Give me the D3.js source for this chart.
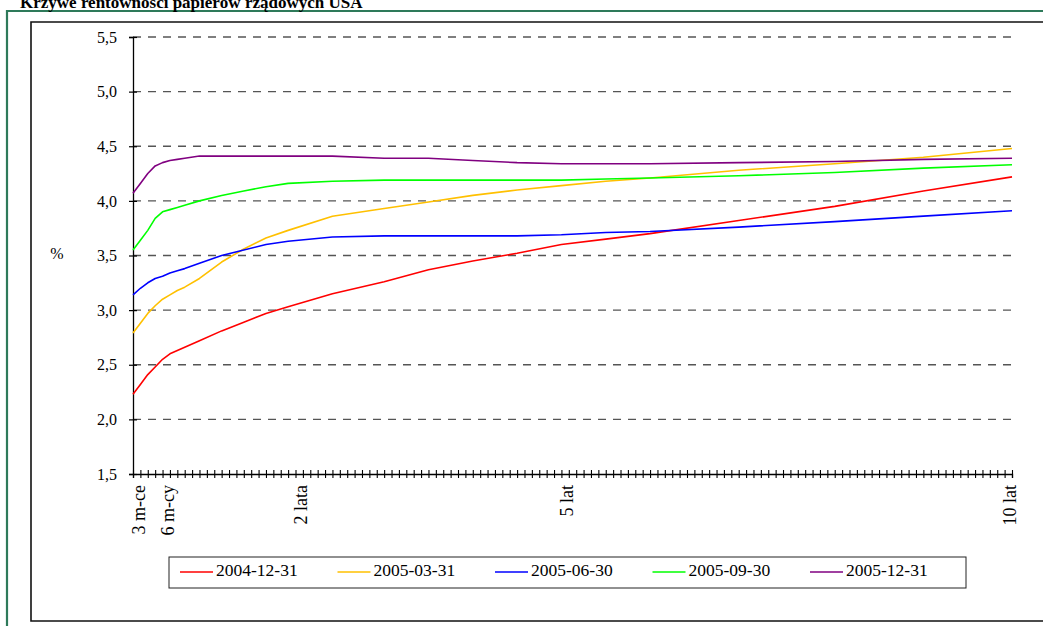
<!DOCTYPE html>
<html><head><meta charset="utf-8">
<script src="https://cdn.jsdelivr.net/npm/d3@7"></script>
<style>
body{margin:0;background:#fff}
svg{display:block}
text{font-family:"Liberation Serif","Times New Roman",serif;fill:#000}
</style>
</head><body>
<svg id="c" width="1043" height="626"></svg>
<script>
// category index (months, 1..120) at which values were read
const months = [1,2,3,4,5,6,7,8,10,13,16,19,22,28,35,41,47,53,59,65,71,83,96,108,120];
const seriesNames = ["2004-12-31","2005-03-31","2005-06-30","2005-09-30","2005-12-31"];
const seriesColors = ["#ff0000","#ffc000","#0000ff","#00ff00","#800080"];
const y20041231 = [2.23,2.32,2.41,2.48,2.55,2.60,2.63,2.66,2.72,2.81,2.89,2.97,3.03,3.15,3.26,3.37,3.45,3.52,3.60,3.65,3.70,3.82,3.95,4.09,4.22];
const y20050331 = [2.79,2.88,2.97,3.04,3.10,3.14,3.18,3.21,3.29,3.44,3.56,3.66,3.73,3.86,3.93,3.99,4.05,4.10,4.14,4.18,4.21,4.28,4.34,4.40,4.48];
const y20050630 = [3.14,3.20,3.25,3.29,3.31,3.34,3.36,3.38,3.43,3.50,3.55,3.60,3.63,3.67,3.68,3.68,3.68,3.68,3.69,3.71,3.72,3.76,3.81,3.86,3.91];
const y20050930 = [3.55,3.64,3.73,3.84,3.90,3.92,3.94,3.96,4.00,4.05,4.09,4.13,4.16,4.18,4.19,4.19,4.19,4.19,4.19,4.20,4.21,4.23,4.26,4.30,4.33];
const y20051231 = [4.07,4.16,4.25,4.32,4.35,4.37,4.38,4.39,4.41,4.41,4.41,4.41,4.41,4.41,4.39,4.39,4.37,4.35,4.34,4.34,4.34,4.35,4.36,4.38,4.39];
const seriesValues = [y20041231,y20050331,y20050630,y20050930,y20051231];
const yTicks = [1.5,2.0,2.5,3.0,3.5,4.0,4.5,5.0,5.5];
const xLabelMonths = [2,6,24,60,120];
const xLabels = ["3 m-ce","6 m-cy","2 lata","5 lat","10 lat"];
const titleText = "Krzywe rentowności papierów rządowych USA";

const svg = d3.select("#c");
const x = d3.scaleLinear().domain([1,120]).range([133,1012]);
const y = d3.scaleLinear().domain([1.5,5.5]).range([474,37]);

// outer green frame
svg.append("path").attr("d","M7,626 L7,11 L1043,11").attr("fill","none")
  .attr("stroke","#2e7a5a").attr("stroke-width",2.2);
// title
svg.append("text").attr("x",20).attr("y",8).attr("font-size",17).attr("font-weight","bold")
  .text(titleText);
// chart area frame
svg.append("path").attr("d","M31,22 L1045,22 L1045,621 L31,621 Z").attr("fill","#fff")
  .attr("stroke","#111").attr("stroke-width",1.6);

// gridlines
svg.append("g").selectAll("line").data(yTicks.filter(d=>d>1.5)).join("line")
  .attr("x1",x(1)).attr("x2",x(120)).attr("y1",d=>y(d)).attr("y2",d=>y(d))
  .attr("stroke","#555").attr("stroke-width",1.3).attr("stroke-dasharray","8,7");

// y axis
const yAxis = svg.append("g").attr("transform",`translate(${x(1)},0)`)
  .call(d3.axisLeft(y).tickValues(yTicks).tickSize(4).tickPadding(12)
    .tickFormat(d=>d3.format(".1f")(d).replace(".",",")));
yAxis.select(".domain").attr("stroke","#000").attr("stroke-width",1.3);
yAxis.selectAll(".tick line").attr("x1",-4).attr("x2",4).attr("stroke","#000").attr("stroke-width",1.2);
yAxis.selectAll(".tick text").attr("font-size",16).attr("font-family","Liberation Serif");

// x axis
const xAxis = svg.append("g").attr("transform",`translate(0,${y(1.5)})`)
  .call(d3.axisBottom(x).tickValues(d3.range(1,121)).tickSize(4).tickFormat(""));
xAxis.select(".domain").attr("stroke","#000").attr("stroke-width",1.3);
xAxis.selectAll(".tick line").attr("y1",-4).attr("y2",4).attr("stroke","#000").attr("stroke-width",1.1);

// x labels
svg.append("g").selectAll("text").data(xLabelMonths).join("text")
  .attr("transform",(d)=>`translate(${x(d)},485) rotate(-90)`)
  .attr("text-anchor","end").attr("dominant-baseline","middle")
  .attr("font-size",18).text((d,i)=>xLabels[i]);

// % label
svg.append("text").attr("x",57).attr("y",y(3.5)).attr("dominant-baseline","middle")
  .attr("text-anchor","middle").attr("font-size",16).text("%");

// lines
const line = d3.line().x((d,i)=>x(months[i])).y(d=>y(d));
svg.append("g").selectAll("path").data(seriesValues).join("path")
  .attr("d",line).attr("fill","none").attr("stroke",(d,i)=>seriesColors[i])
  .attr("stroke-width",1.6).attr("stroke-linejoin","round");

// legend
const lg = svg.append("g");
lg.append("rect").attr("x",169).attr("y",557).attr("width",797).attr("height",31)
  .attr("fill","#fff").attr("stroke","#222").attr("stroke-width",1);
const items = lg.selectAll("g").data(seriesNames).join("g")
  .attr("transform",(d,i)=>`translate(${180+157.5*i},572)`);
items.append("line").attr("x1",0).attr("x2",33).attr("y1",0).attr("y2",0)
  .attr("stroke",(d,i)=>seriesColors[i]).attr("stroke-width",1.6);
items.append("text").attr("x",36).attr("y",0).attr("dominant-baseline","middle")
  .attr("font-size",17.5).text(d=>d);
</script>
</body></html>
